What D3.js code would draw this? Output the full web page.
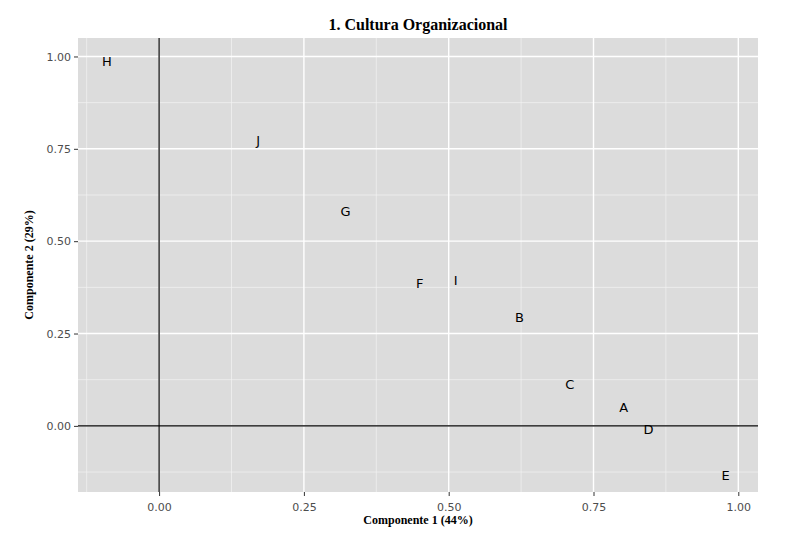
<!DOCTYPE html>
<html><head><meta charset="utf-8">
<script src="https://cdn.jsdelivr.net/npm/d3@7/dist/d3.min.js"></script>
<style>body{margin:0;background:#fff}</style></head>
<body><svg id="c" width="793" height="548"></svg>
<script>
const labels=["H","J","G","F","I","B","C","A","D","E"];
const comp1=[-0.09,0.171,0.322,0.45,0.512,0.622,0.709,0.802,0.845,0.978];
const comp2=[0.986,0.772,0.580,0.385,0.393,0.293,0.111,0.051,-0.011,-0.133];
const ticks=[0,0.25,0.5,0.75,1];
const tickLabels=["0.00","0.25","0.50","0.75","1.00"];
const svg=d3.select("#c");
const L=78,R=758,T=38,B=492;
const x=d3.scaleLinear().domain([-0.14,1.034]).range([L,R]);
const y=d3.scaleLinear().domain([-0.179,1.05]).range([B,T]);
svg.append("rect").attr("x",L).attr("y",T).attr("width",R-L).attr("height",B-T).attr("fill","#dcdcdc");
const minor=[-0.125,0.125,0.375,0.625,0.875];
const g=svg.append("g");
minor.forEach(v=>{g.append("line").attr("x1",x(v)).attr("x2",x(v)).attr("y1",T).attr("y2",B).attr("stroke","#f2f2f2").attr("stroke-width",0.7);
 if(y(v)>=T&&y(v)<=B) g.append("line").attr("x1",L).attr("x2",R).attr("y1",y(v)).attr("y2",y(v)).attr("stroke","#f2f2f2").attr("stroke-width",0.7);});
ticks.forEach(v=>{g.append("line").attr("x1",x(v)).attr("x2",x(v)).attr("y1",T).attr("y2",B).attr("stroke","#fff").attr("stroke-width",1.4);
 g.append("line").attr("x1",L).attr("x2",R).attr("y1",y(v)).attr("y2",y(v)).attr("stroke","#fff").attr("stroke-width",1.4);});
g.append("line").attr("x1",x(0)).attr("x2",x(0)).attr("y1",T).attr("y2",B).attr("stroke","#000").attr("stroke-width",1.2);
g.append("line").attr("x1",L).attr("x2",R).attr("y1",y(0)).attr("y2",y(0)).attr("stroke","#000").attr("stroke-width",1.2);
const xa=svg.append("g").attr("transform",`translate(0,${B})`).call(d3.axisBottom(x).tickValues(ticks).tickFormat((d,i)=>tickLabels[i]).tickSize(4));
const ya=svg.append("g").attr("transform",`translate(${L},0)`).call(d3.axisLeft(y).tickValues(ticks).tickFormat((d,i)=>tickLabels[i]).tickSize(4));
[xa,ya].forEach(a=>{a.select(".domain").remove();a.selectAll("line").attr("stroke","#333");a.selectAll("text").attr("fill","#4d4d4d").style("font-family","DejaVu Sans").style("font-size","11px");});
xa.selectAll("text").attr("dy","1.1em");
svg.selectAll(".pt").data(labels).enter().append("text").attr("x",(d,i)=>x(comp1[i])).attr("y",(d,i)=>y(comp2[i])).attr("dy","0.35em").attr("text-anchor","middle").style("font-family","DejaVu Sans").style("font-size","13px").text(d=>d);
svg.append("text").attr("x",418).attr("y",30).attr("text-anchor","middle").style("font-family","Liberation Serif").style("font-weight","bold").style("font-size","16px").text("1. Cultura Organizacional");
svg.append("text").attr("x",418).attr("y",524).attr("text-anchor","middle").style("font-family","Liberation Serif").style("font-weight","bold").style("font-size","12px").text("Componente 1 (44%)");
svg.append("text").attr("transform",`translate(33,${(T+B)/2}) rotate(-90)`).attr("text-anchor","middle").style("font-family","Liberation Serif").style("font-weight","bold").style("font-size","12px").text("Componente 2 (29%)");
</script></body></html>
